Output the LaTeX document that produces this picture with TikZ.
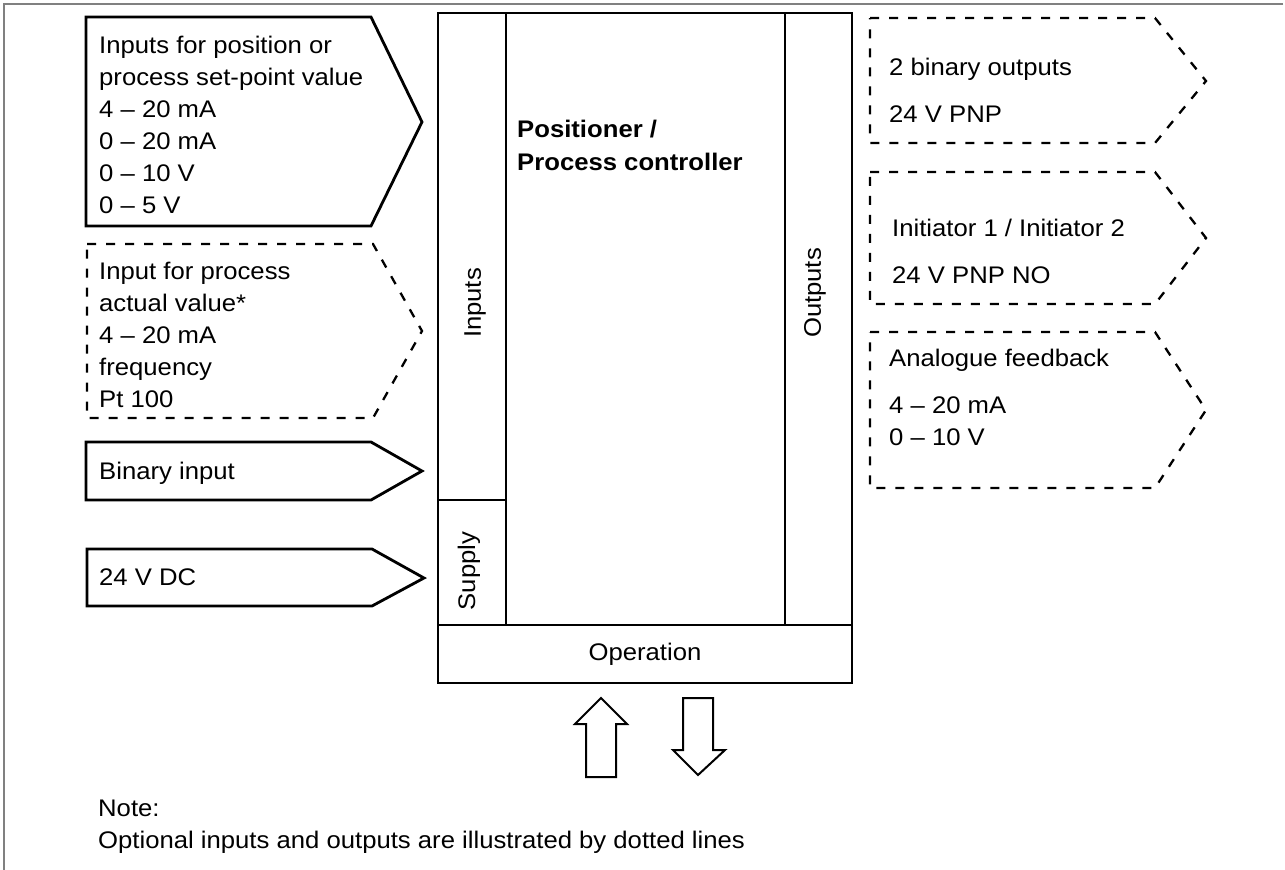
\documentclass[tikz,border=0pt]{standalone}
\usepackage{fontspec}
\setmainfont{Liberation Sans}[FakeStretch=1.07]
\usepackage{tikz}

\begin{document}
\begin{tikzpicture}[x=1pt, y=-1pt, font=\fontsize{24}{32}\selectfont,
        inbox/.style={line width=2.8pt},
        optbox/.style={line width=2.3pt, dash pattern=on 9pt off 10pt},
        blk/.style={draw, line width=2.8pt, rectangle, inner sep=0pt},
        txt/.style={anchor=base west, inner sep=0pt, align=left},
        vlbl/.style={rotate=90, inner sep=0pt},
        fat/.style={line width=2pt, line join=miter}]
        \useasboundingbox (0,0) rectangle (1285,870);
        \draw [gray, line width=1.6pt] (1283,4) -- (4,4) -- (4,870);

        % positioner block (text nodes sit on the baseline of their last line)
        \node [blk, minimum width=68pt, minimum height=487pt] (inp) at (472,256.5) {};
        \node [blk, minimum width=68pt, minimum height=125pt] (sup) at (472,562.5) {};
        \node [blk, minimum width=279pt, minimum height=612pt] (core) at (645.5,319) {};
        \node [blk, minimum width=67pt, minimum height=612pt] (outp) at (818.5,319) {};
        \node [blk, minimum width=414pt, minimum height=58pt] (oper) at (645,654) {Operation};
        \node [vlbl] (inplbl) at (475,303) {Inputs};
        \node [vlbl] (suplbl) at (469,571) {Supply};
        \node [vlbl] (outlbl) at (815,293) {Outputs};
        \node [txt, font=\fontsize{24}{33}\selectfont\bfseries] (title) at (517,170) {Positioner /\\Process controller};

        % inputs
        \draw [inbox] (86,17) -- (371,17) -- (422,122) -- (371,226) -- (86,226) -- cycle;
        \draw [optbox] (87,244) -- (373,244) -- (422,331) -- (373,418) -- (87,418) -- cycle;
        \draw [inbox] (86,442) -- (371,442) -- (422,471) -- (371,500) -- (86,500) -- cycle;
        \draw [inbox] (87,549) -- (372,549) -- (424,578) -- (372,606) -- (87,606) -- cycle;
        \node [txt] (setp) at (99,213) {Inputs for position or\\process set-point value\\4 -- 20 mA\\0 -- 20 mA\\0 -- 10 V\\0 -- 5 V};
        \node [txt] (actv) at (99,407) {Input for process\\actual value*\\4 -- 20 mA\\frequency\\Pt 100};
        \node [txt] (binin) at (99,479) {Binary input};
        \node [txt] (pwr) at (99,585) {24 V DC};

        % outputs
        \draw [optbox] (870,18) -- (1155,18) -- (1206,81) -- (1155,143) -- (870,143) -- cycle;
        \draw [optbox] (870,172) -- (1155,172) -- (1206,238) -- (1155,304) -- (870,304) -- cycle;
        \draw [optbox] (870,332) -- (1155,332) -- (1206,410) -- (1155,488) -- (870,488) -- cycle;
        \node [txt] (binout) at (889,122) {2 binary outputs\\[15pt]24 V PNP};
        \node [txt] (init) at (892,283) {Initiator 1 / Initiator 2\\[15pt]24 V PNP NO};
        \node [txt] (fback) at (889,445) {Analogue feedback\\[15pt]4 -- 20 mA\\0 -- 10 V};

        % operation arrows
        \draw [fat] (586,777) -- (586,724) -- (575,724) -- (601,698) -- (627,724) -- (616,724) -- (616,777) -- cycle;
        \draw [fat] (683,698) -- (713,698) -- (713,750) -- (725,750) -- (698,775) -- (673,750) -- (683,750) -- cycle;

        \node [txt] (note) at (98,848) {Note:\\Optional inputs and outputs are illustrated by dotted lines};
\end{tikzpicture}
\end{document}
